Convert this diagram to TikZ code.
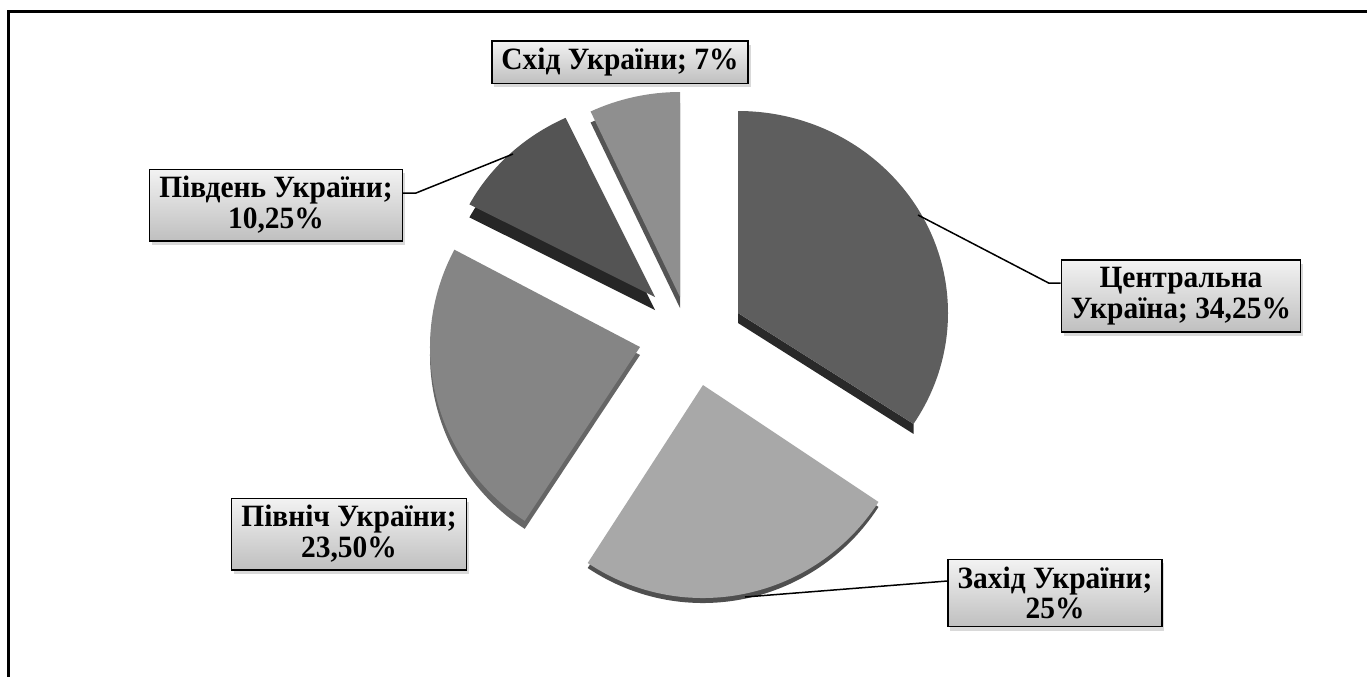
\documentclass[tikz,border=0pt]{standalone}
\usepackage{fontspec}
\setmainfont[FakeStretch=0.95]{Liberation Serif}
\usetikzlibrary{calc,shadows}

\begin{document}
\begin{tikzpicture}[
    x=0.5pt, y=-0.5pt,
    labelbox/.style={draw, line width=0.75pt, top color=black!5, bottom color=black!25,
      align=center, font=\bfseries\fontsize{15.5}{15.4}\selectfont,
      inner xsep=4.8pt, inner ysep=3.6pt,
      drop shadow={shadow xshift=1.2pt, shadow yshift=-2pt, opacity=0.3}},
    leader/.style={line width=0.75pt}
]
  \useasboundingbox (0,0) rectangle (1367,676);

  % рамка
  \draw[line width=1.5pt] (8,690) -- (8,11) -- (1380,11);

  % вершини секторів
  \coordinate (cen) at (738,313);
  \coordinate (zah) at (703,385);
  \coordinate (pin) at (640,347);
  \coordinate (pid) at (655,297);
  \coordinate (shi) at (680,297);

  % бічні грані
  \fill[black!84] (cen) -- ++(33.3:210 and 202) -- ++(0,10) -- ($(cen)+(0,10)$) -- cycle;
  \fill[black!69] ($(zah)+(0,5)$) -- ++(33.3:210 and 213) arc[start angle=33.3, end angle=123.3, x radius=210, y radius=213] -- cycle;
  \fill[black!60] ($(pin)+(0,8)$) -- ++(123.3:210 and 208) arc[start angle=123.3, end angle=207.9, x radius=210, y radius=208] -- cycle;
  \fill[black!85] ($(pid)+(0,13)$) -- ++(207.9:210 and 198) arc[start angle=207.9, end angle=244.8, x radius=210, y radius=198] -- cycle;
  \fill[black!67] ($(shi)+(0,11)$) -- ++(244.8:210 and 205) arc[start angle=244.8, end angle=270, x radius=210, y radius=205] -- cycle;

  % верхні грані
  \fill[black!63] (cen) -- ++(-90:210 and 202) arc[start angle=-90, end angle=33.3, x radius=210, y radius=202] -- cycle;
  \fill[black!34] (zah) -- ++(33.3:210 and 213) arc[start angle=33.3, end angle=123.3, x radius=210, y radius=213] -- cycle;
  \fill[black!48] (pin) -- ++(123.3:210 and 208) arc[start angle=123.3, end angle=207.9, x radius=210, y radius=208] -- cycle;
  \fill[black!67] (pid) -- ++(207.9:210 and 198) arc[start angle=207.9, end angle=244.8, x radius=210, y radius=198] -- cycle;
  \fill[black!44] (shi) -- ++(244.8:210 and 205) arc[start angle=244.8, end angle=270, x radius=210, y radius=205] -- cycle;

  % підписи
  \node[labelbox] (shid) at (620,62) {Схід України; 7\%};
  \node[labelbox] (pivd) at (276,205) {Південь України;\\10,25\%};
  \node[labelbox] (centr) at (1181,296) {Центральна\\Україна; 34,25\%};
  \node[labelbox] (pivn) at (349,534) {Північ України;\\23,50\%};
  \node[labelbox] (zakh) at (1055,593) {Захід України;\\25\%};

  % лінії виносок
  \coordinate (pc) at (918,215);
  \coordinate (ps) at (513,154);
  \coordinate (pz) at (745,597);
  \draw[leader] (pc) -- ([xshift=-6pt,yshift=6.5pt]centr.west) -- ([yshift=6.5pt]centr.west);
  \draw[leader] (ps) -- ([xshift=6.5pt,yshift=6pt]pivd.east) -- ([yshift=6pt]pivd.east);
  \draw[leader] (pz) -- ([yshift=6pt]zakh.west);

\end{tikzpicture}
\end{document}
